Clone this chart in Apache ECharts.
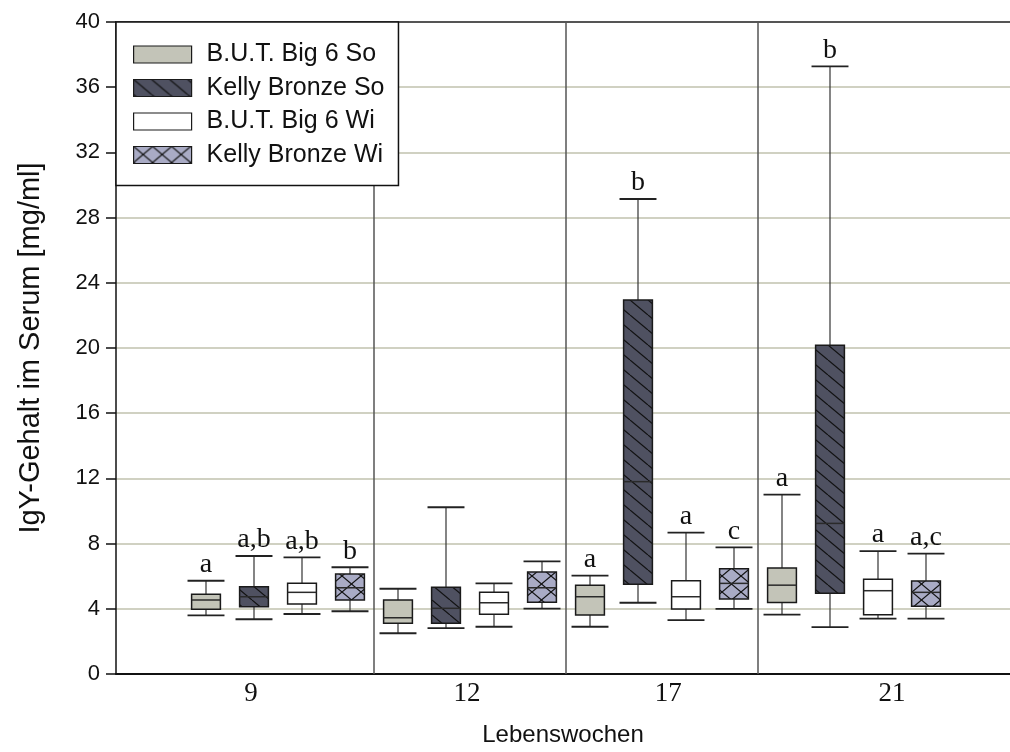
<!DOCTYPE html>
<html><head><meta charset="utf-8">
<script src="https://cdn.jsdelivr.net/npm/echarts@6/dist/echarts.min.js"></script>
<style>html,body{margin:0;padding:0;background:#fff}#c{width:1010px;height:752px}</style>
</head><body><div id="c"></div>
<script>
// ---------- DATA ----------
const weeks = ['9', '12', '17', '21'];
const groupNames = ['B.U.T. Big 6 So', 'Kelly Bronze So', 'B.U.T. Big 6 Wi', 'Kelly Bronze Wi'];
// each entry: [min, Q1, median, Q3, max] for weeks 9, 12, 17, 21
const butSo   = [[3.60, 3.97, 4.54, 4.89, 5.72], [2.50, 3.11, 3.45, 4.54, 5.23], [2.90, 3.62, 4.74, 5.44, 6.03], [3.64, 4.39, 5.45, 6.50, 11.00]];
const kellySo = [[3.36, 4.13, 4.74, 5.36, 7.24], [2.82, 3.11, 4.03, 5.32, 10.23], [4.37, 5.50, 11.80, 22.94, 29.14], [2.87, 4.96, 9.24, 20.17, 37.28]];
const butWi   = [[3.68, 4.29, 5.01, 5.56, 7.16], [2.90, 3.66, 4.37, 5.01, 5.56], [3.31, 3.99, 4.74, 5.72, 8.67], [3.40, 3.64, 5.11, 5.81, 7.54]];
const kellyWi = [[3.85, 4.54, 5.29, 6.13, 6.55], [4.01, 4.40, 5.29, 6.26, 6.91], [3.99, 4.60, 5.56, 6.46, 7.77], [3.40, 4.15, 5.01, 5.71, 7.38]];
const lettersButSo   = ['a', '', 'a', 'a'];
const lettersKellySo = ['a,b', '', 'b', 'b'];
const lettersButWi   = ['a,b', '', 'a', 'a'];
const lettersKellyWi = ['b', '', 'c', 'a,c'];
const yMin = 0, yMax = 40, yStep = 4;

// ---------- LAYOUT / STYLE ----------
const weekLabelPos = [0.94, 5.44, 9.63, 14.29];
const xMin = -1.875, xMax = 16.75;
const BOX_W = 0.6, CAP_W = 0.77;

function makePattern(bg, w, h, cross) {
  const cv = document.createElement('canvas');
  cv.width = w; cv.height = h;
  const ctx = cv.getContext('2d');
  ctx.fillStyle = bg; ctx.fillRect(0, 0, w, h);
  ctx.strokeStyle = '#111'; ctx.lineWidth = 1.2;
  for (const o of [-w, 0, w]) {
    ctx.beginPath(); ctx.moveTo(o, 0); ctx.lineTo(o + w, h); ctx.stroke();
    if (cross) { ctx.beginPath(); ctx.moveTo(o + w, 0); ctx.lineTo(o, h); ctx.stroke(); }
  }
  return { image: cv, repeat: 'repeat' };
}
const fills = [
  '#c3c4b8',
  makePattern('#4f5161', 18, 15, false),
  '#ffffff',
  makePattern('#a9abc5', 19, 16, true)
];
const seriesData = [butSo, kellySo, butWi, kellyWi];
const seriesLetters = [lettersButSo, lettersKellySo, lettersButWi, lettersKellyWi];

function makeRender(fill, letters) {
  return function (params, api) {
    const x = api.value(0);
    const v = [1, 2, 3, 4, 5].map(i => api.value(i));
    const p = v.map(val => api.coord([x, val]));
    const cx = p[0][0];
    const [yMn, yQ1, yMd, yQ3, yMx] = p.map(q => q[1]);
    const bw = api.size([BOX_W, 0])[0];
    const cw = api.size([CAP_W, 0])[0];
    const ln = (x1, y1, x2, y2, w, c) => ({ type: 'line', shape: { x1, y1, x2, y2 }, style: { stroke: c || '#222', lineWidth: w } });
    const children = [
      ln(cx, yQ3, cx, yMx, 1.2, '#333'),
      ln(cx, yQ1, cx, yMn, 1.2, '#333'),
      ln(cx - cw / 2, yMx, cx + cw / 2, yMx, 1.8),
      ln(cx - cw / 2, yMn, cx + cw / 2, yMn, 1.8),
      { type: 'rect', shape: { x: cx - bw / 2, y: yQ3, width: bw, height: yQ1 - yQ3 }, style: { fill: fill, stroke: '#1a1a1a', lineWidth: 1.5 } },
      ln(cx - bw / 2, yMd, cx + bw / 2, yMd, 1.5, '#2a2a2a')
    ];
    const t = letters[params.dataIndex];
    if (t) {
      children.push({ type: 'text', style: { text: t, x: cx, y: yMx - 2, align: 'center', verticalAlign: 'bottom', fontFamily: '"Liberation Serif", serif', fontSize: 28, fill: '#111' } });
    }
    return { type: 'group', children };
  };
}

const series = [{
  name: 'sep', type: 'custom', silent: true, z: 1,
  data: weeks.slice(1).map((w, i) => [(i + 1) * groupNames.length - 0.5]),
  renderItem: function (params, api) {
    const a = api.coord([api.value(0), yMin]);
    const b = api.coord([api.value(0), yMax]);
    return { type: 'line', shape: { x1: a[0], y1: a[1], x2: b[0], y2: b[1] }, style: { stroke: '#555', lineWidth: 1.5 } };
  }
}];
groupNames.forEach((name, s) => {
  series.push({
    name: name, type: 'custom', z: 3,
    itemStyle: { color: fills[s], borderColor: '#1a1a1a', borderWidth: 1.2 },
    data: seriesData[s].map((d, w) => [w * groupNames.length + s].concat(d)),
    encode: { x: 0, y: [1, 2, 3, 4, 5] },
    renderItem: makeRender(fills[s], seriesLetters[s])
  });
});

const chart = echarts.init(document.getElementById('c'));
chart.setOption({
  animation: false,
  backgroundColor: '#fff',
  grid: { left: 116, right: 0, top: 22, bottom: 78 },
  legend: {
    orient: 'vertical', left: 116, top: 22, selectedMode: false,
    icon: 'rect', itemWidth: 58, itemHeight: 17, itemGap: 8.5,
    padding: [20, 14, 18, 17],
    backgroundColor: '#fff', borderColor: '#111', borderWidth: 1.5,
    textStyle: { fontFamily: '"Liberation Sans", Arial, sans-serif', fontSize: 25, color: '#111', padding: [0, 0, 0, 10] },
    data: groupNames.map((n, s) => ({ name: n, itemStyle: { color: fills[s], borderColor: '#1a1a1a', borderWidth: 1.2 } }))
  },
  xAxis: [{
    type: 'value', min: xMin, max: xMax,
    axisLine: { show: true, onZero: false, lineStyle: { color: '#111', width: 2 } },
    axisTick: { show: false }, splitLine: { show: false },
    axisLabel: {
      customValues: weekLabelPos,
      formatter: function (val) {
        let best = 0;
        weekLabelPos.forEach((p, i) => { if (Math.abs(p - val) < Math.abs(weekLabelPos[best] - val)) best = i; });
        return weeks[best];
      },
      fontFamily: '"Liberation Serif", serif', fontSize: 27, color: '#111', margin: 6
    },
    name: 'Lebenswochen', nameLocation: 'middle', nameGap: 49,
    nameTextStyle: { fontFamily: '"Liberation Sans", Arial, sans-serif', fontSize: 24, color: '#111' }
  }, {
    type: 'value', position: 'top', min: xMin, max: xMax,
    axisLine: { show: true, onZero: false, lineStyle: { color: '#555', width: 2 } },
    axisTick: { show: false }, axisLabel: { show: false }, splitLine: { show: false }
  }],
  yAxis: {
    type: 'value', min: yMin, max: yMax, interval: yStep,
    axisLine: { show: true, onZero: false, lineStyle: { color: '#111', width: 1.5 } },
    axisTick: { show: true, length: 10, lineStyle: { color: '#111', width: 1.5 } },
    axisLabel: { fontFamily: '"Liberation Sans", Arial, sans-serif', fontSize: 22, color: '#111', margin: 16 },
    splitLine: { show: true, lineStyle: { color: '#d0d1c2', width: 2 } },
    name: 'IgY-Gehalt im Serum [mg/ml]', nameLocation: 'middle', nameGap: 71, nameRotate: 90,
    nameTextStyle: { fontFamily: '"Liberation Sans", Arial, sans-serif', fontSize: 29, color: '#111' }
  },
  series: series
});
</script></body></html>
